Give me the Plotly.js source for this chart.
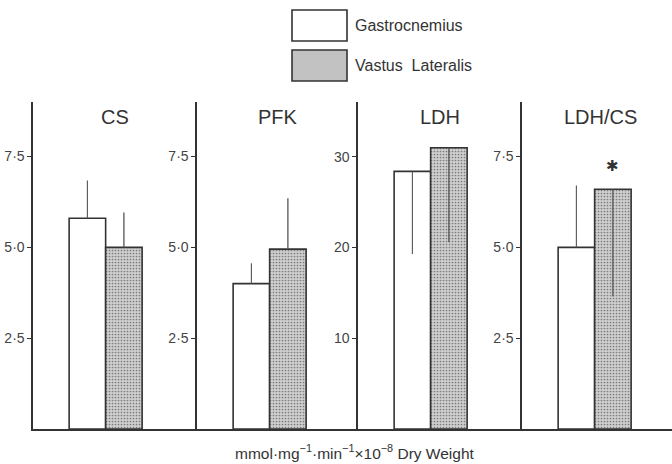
<!DOCTYPE html>
<html>
<head>
<meta charset="utf-8">
<script src="https://cdn.plot.ly/plotly-3.0.1.min.js"></script>
<style>html,body{margin:0;padding:0;background:#fff;}#chart{width:672px;height:464px;}</style>
</head>
<body>
<div id="chart"></div>
<script>
// Data
const categories = ['CS', 'PFK', 'LDH', 'LDH/CS'];
const seriesNames = ['Gastrocnemius', 'Vastus  Lateralis'];
const gastroc = [5.8, 4.0, 28.4, 5.0];
const gastrocErrUp = [1.04, 0.56, 0, 1.7];
const gastrocErrDown = [0, 0, 9.1, 0];
const vastus = [5.0, 4.95, 31.0, 6.6];
const vastusErrUp = [0.96, 1.4, 0, 0];
const vastusErrDown = [0, 0, 10.4, 2.95];
const yTickVals = [[2.5, 5, 7.5], [2.5, 5, 7.5], [10, 20, 30], [2.5, 5, 7.5]];
const yTickText = [['2·5', '5·0', '7·5'], ['2·5', '5·0', '7·5'], ['10', '20', '30'], ['2·5', '5·0', '7·5']];
const yTops = [9.0, 9.0, 36.05, 9.0];
const significant = [false, false, false, true];
const xTitle = 'mmol·mg<sup>−1</sup>·min<sup>−1</sup>×10<sup>−8</sup> Dry Weight';

const W = 672, H = 464;
const axisPx = [33, 197, 358, 522];
const panelW = 163;
const unitPx = 36.5;
const x0 = -1.49;
const yBot = 1 - 429 / H, yTop = 1 - 102 / H;
const ink = '#333';
const shade = '#c2c2c2';
const FONT = 'Liberation Sans, Arial, Helvetica, sans-serif';

const traces = [];
const layout = {
  width: W, height: H,
  margin: {l: 0, r: 0, t: 0, b: 0},
  paper_bgcolor: '#fff', plot_bgcolor: 'rgba(0,0,0,0)',
  showlegend: false,
  bargap: 0,
  font: {family: FONT, color: '#444', size: 14},
  shapes: [], annotations: []
};

categories.forEach((cat, i) => {
  const n = i === 0 ? '' : String(i + 1);
  const xa = 'x' + n, ya = 'y' + n;
  const left = axisPx[i];
  const right = Math.min(left + panelW, W);
  const xEnd = x0 + (right - left) / unitPx;
  traces.push({
    type: 'bar', x: [0], y: [gastroc[i]], width: [1], xaxis: xa, yaxis: ya,
    name: seriesNames[0],
    marker: {color: '#fff', line: {color: ink, width: 1.6}},
    error_y: {type: 'data', symmetric: false, array: [gastrocErrUp[i]], arrayminus: [gastrocErrDown[i]],
              width: 0, thickness: 1.1, color: '#555'},
    hoverinfo: 'skip'
  });
  traces.push({
    type: 'bar', x: [1], y: [vastus[i]], width: [1], xaxis: xa, yaxis: ya,
    name: seriesNames[1],
    marker: {color: shade, line: {color: ink, width: 1.6},
             pattern: {shape: '.', bgcolor: '#cfcfcf', fgcolor: '#7a7a7a', size: 3, solidity: 0.25}},
    error_y: {type: 'data', symmetric: false, array: [vastusErrUp[i]], arrayminus: [vastusErrDown[i]],
              width: 0, thickness: 1.3, color: '#555'},
    hoverinfo: 'skip'
  });
  layout['xaxis' + n] = {
    domain: [left / W, right / W], range: [x0, xEnd], anchor: ya,
    showline: true, linecolor: ink, linewidth: 2, showticklabels: false, ticks: '',
    showgrid: false, zeroline: false, fixedrange: true
  };
  layout['yaxis' + n] = {
    domain: [yBot, yTop], range: [0, yTops[i]], anchor: xa,
    showline: true, linecolor: ink, linewidth: 1.6,
    ticks: 'outside', ticklen: 4, tickwidth: 1.2, tickcolor: ink,
    tickvals: yTickVals[i], ticktext: yTickText[i],
    tickfont: {family: FONT, size: 14, color: '#444'},
    showgrid: false, zeroline: false, fixedrange: true
  };
  layout.annotations.push({
    xref: xa + ' domain', yref: 'paper', x: 0, y: 1 - 117 / H,
    xshift: [82, 81, 82, 78][i], text: cat, showarrow: false,
    font: {family: FONT, size: 20, color: '#333'}, xanchor: 'center', yanchor: 'middle'
  });
  if (significant[i]) {
    layout.annotations.push({
      xref: xa, yref: ya, x: 1, y: 7.23, text: '✱', showarrow: false,
      font: {family: 'DejaVu Sans', size: 15, color: '#333'}, xanchor: 'center', yanchor: 'middle'
    });
  }
});

// Legend drawn as boxes with labels
const legendBoxes = [[292, 10, 347, 41, '#fff'], [292, 50, 347, 81, shade]];
legendBoxes.forEach((b, k) => {
  layout.shapes.push({type: 'rect', xref: 'paper', yref: 'paper',
    x0: b[0] / W, x1: b[2] / W, y0: 1 - b[3] / H, y1: 1 - b[1] / H,
    line: {color: ink, width: 1.6}, fillcolor: b[4]});
  layout.annotations.push({xref: 'paper', yref: 'paper', x: 353 / W, y: 1 - ((b[1] + b[3]) / 2) / H,
    text: seriesNames[k], showarrow: false, xanchor: 'left', yanchor: 'middle',
    font: {family: FONT, size: 16, color: '#333'}});
});

layout.annotations.push({xref: 'paper', yref: 'paper', x: 355 / W, y: 1 - 452 / H,
  text: xTitle, showarrow: false, xanchor: 'center', yanchor: 'middle',
  font: {family: FONT, size: 15.5, color: '#333'}});

Plotly.newPlot('chart', traces, layout, {staticPlot: true, displayModeBar: false});
</script>
</body>
</html>
